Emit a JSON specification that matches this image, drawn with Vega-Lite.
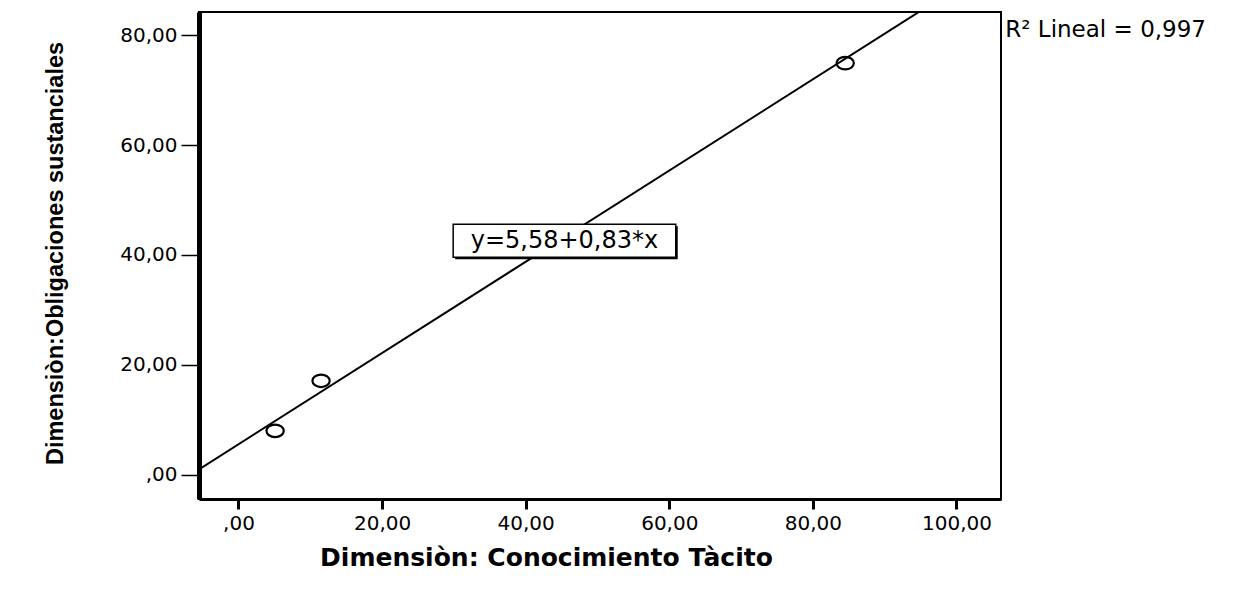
{
  "$schema": "https://vega.github.io/schema/vega-lite/v6.json",
  "width": 802,
  "height": 487,
  "autosize": {"type": "none"},
  "padding": {"left": 199, "top": 12, "right": 237, "bottom": 91},
  "background": "white",
  "config": {"view": {"stroke": "black", "strokeWidth": 2}, "font": "DejaVu Sans"},
  "datasets": {
    "points": [
      {"tacito": 5.1, "oblig": 8.0},
      {"tacito": 11.5, "oblig": 17.1},
      {"tacito": 84.5, "oblig": 74.9}
    ],
    "fit": [
      {"tacito": -5.5, "oblig": 1.0},
      {"tacito": 106.2, "oblig": 93.7}
    ],
    "eqbox": [
      {"tacito": 29.9, "tacito2": 60.9, "oblig": 39.6, "oblig2": 45.6}
    ],
    "eqlabel": [
      {"tacito": 45.4, "oblig": 42.6, "label": "y=5,58+0,83*x"}
    ],
    "r2": [
      {"tacito": 106.8, "oblig": 80.9, "label": "R² Lineal = 0,997"}
    ]
  },
  "encoding": {
    "x": {
      "field": "tacito",
      "type": "quantitative",
      "scale": {"domain": [-5.5, 106.2], "nice": false, "zero": false},
      "axis": {
        "values": [0, 20, 40, 60, 80, 100],
        "labelExpr": "datum.value == 0 ? ',00' : replace(format(datum.value, '.2f'), '.', ',')",
        "title": "Dimensiòn: Conocimiento Tàcito",
        "grid": false,
        "domainColor": "black",
        "domainWidth": 3,
        "tickColor": "black",
        "tickWidth": 3,
        "tickSize": 10,
        "labelPadding": 4,
        "labelFlush": false,
        "labelFont": "DejaVu Sans",
        "labelFontSize": 20,
        "labelColor": "black",
        "titleFont": "DejaVu Sans",
        "titleFontSize": 25,
        "titleFontWeight": "bold",
        "titleColor": "black",
        "titleX": 347,
        "titleY": 66,
        "titleBaseline": "alphabetic"
      }
    },
    "y": {
      "field": "oblig",
      "type": "quantitative",
      "scale": {"domain": [-4.4, 84.2], "nice": false, "zero": false},
      "axis": {
        "values": [0, 20, 40, 60, 80],
        "labelExpr": "datum.value == 0 ? ',00' : replace(format(datum.value, '.2f'), '.', ',')",
        "title": "Dimensiòn:Obligaciones sustanciales",
        "grid": false,
        "domainColor": "black",
        "domainWidth": 5,
        "tickColor": "black",
        "tickWidth": 1.5,
        "tickSize": 18,
        "labelPadding": 4,
        "labelFlush": false,
        "labelFont": "DejaVu Sans",
        "labelFontSize": 20,
        "labelColor": "black",
        "titleFont": "Liberation Sans",
        "titleFontSize": 23.5,
        "titleFontWeight": "bold",
        "titleColor": "black",
        "titleX": -137,
        "titleY": 241,
        "titleBaseline": "alphabetic"
      }
    }
  },
  "layer": [
    {
      "data": {"name": "fit"},
      "mark": {"type": "line", "clip": true, "color": "black", "strokeWidth": 2}
    },
    {
      "data": {"name": "eqbox"},
      "mark": {"type": "rect", "fill": "black", "xOffset": 2, "x2Offset": 2, "yOffset": 2, "y2Offset": 2},
      "encoding": {
        "x2": {"field": "tacito2"},
        "y2": {"field": "oblig2"}
      }
    },
    {
      "data": {"name": "eqbox"},
      "mark": {"type": "rect", "fill": "white", "stroke": "black", "strokeWidth": 1.5},
      "encoding": {
        "x2": {"field": "tacito2"},
        "y2": {"field": "oblig2"}
      }
    },
    {
      "data": {"name": "eqlabel"},
      "mark": {"type": "text", "font": "DejaVu Sans", "fontSize": 24, "color": "black", "align": "center", "baseline": "middle"},
      "encoding": {
        "text": {"field": "label"}
      }
    },
    {
      "data": {"name": "points"},
      "mark": {
        "type": "point",
        "shape": "M-1,0 A1,0.72 0 1,1 1,0 A1,0.72 0 1,1 -1,0 Z",
        "filled": false,
        "stroke": "black",
        "strokeWidth": 2.2,
        "size": 300,
        "opacity": 1
      }
    },
    {
      "data": {"name": "r2"},
      "mark": {"type": "text", "font": "DejaVu Sans", "fontSize": 23, "color": "black", "align": "left", "baseline": "middle"},
      "encoding": {
        "text": {"field": "label"}
      }
    }
  ]
}
